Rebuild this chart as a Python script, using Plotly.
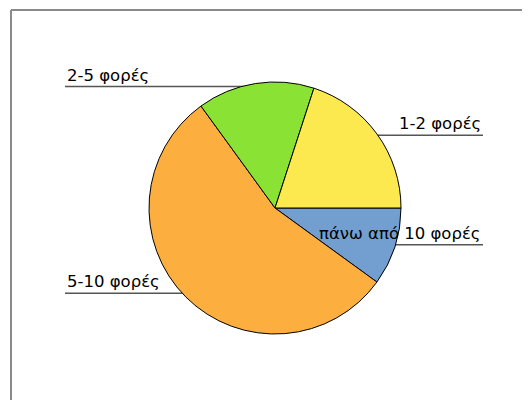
import math
import plotly.graph_objects as go

# Data
categories = ["1-2 φορές", "2-5 φορές", "5-10 φορές", "πάνω από 10 φορές"]
values = [20, 15, 55, 10]
colors = ["#FCE94F", "#8AE234", "#FCAF3E", "#729FCF"]

# page body has an 8px margin, so figure coordinates = reference pixels - 8
OFF = 8
W, H = 530 - OFF, 400 - OFF
CX, CY, R = 275 - OFF, 208 - OFF, 126  # pie centre / radius in pixels
RX, RY = 131, 122                      # label anchor ellipse
LEFT_X, RIGHT_X = 65 - OFF, 483 - OFF

fig = go.Figure(go.Pie(
    labels=categories[::-1],
    values=values[::-1],
    sort=False,
    direction="clockwise",
    rotation=90,
    marker=dict(colors=colors[::-1], line=dict(color="#000000", width=1)),
    textinfo="none",
    hoverinfo="label+percent",
    showlegend=False,
    domain=dict(x=[(CX - R) / W, (CX + R) / W], y=[1 - (CY + R) / H, 1 - (CY - R) / H]),
))

total = sum(values)
cum = 0
shapes = []
annotations = []
for lab, v in zip(categories, values):
    mid = 2 * math.pi * (cum + v / 2) / total
    cum += v
    ex = CX + R * math.cos(mid)
    ey = CY - 1 - RY * math.sin(mid)
    left = math.cos(mid) < 0
    endx = LEFT_X if left else RIGHT_X
    shapes.append(dict(type="line", xref="paper", yref="paper",
                       x0=ex / W, x1=endx / W, y0=1 - ey / H, y1=1 - ey / H,
                       line=dict(color="#555555", width=1.5), layer="below"))
    annotations.append(dict(text=lab, xref="paper", yref="paper",
                            x=endx / W, y=1 - ey / H,
                            xanchor="left" if left else "right", yanchor="bottom",
                            showarrow=False, yshift=0,
                            font=dict(family="DejaVu Sans", size=16.5, color="#000000")))

# outer frame (only left and top edges visible)
fx, fy = (11 - OFF) / W, 1 - (10 - OFF) / H
shapes.append(dict(type="line", xref="paper", yref="paper",
                   x0=fx, x1=fx, y0=-0.1, y1=fy,
                   line=dict(color="#8a8a8a", width=2), layer="below"))
shapes.append(dict(type="line", xref="paper", yref="paper",
                   x0=fx, x1=1.1, y0=fy, y1=fy,
                   line=dict(color="#8a8a8a", width=2), layer="below"))

fig.update_layout(
    width=W, height=H,
    margin=dict(l=0, r=0, t=0, b=0),
    paper_bgcolor="white",
    plot_bgcolor="white",
    shapes=shapes,
    annotations=annotations,
)

fig.write_html("out.html")
